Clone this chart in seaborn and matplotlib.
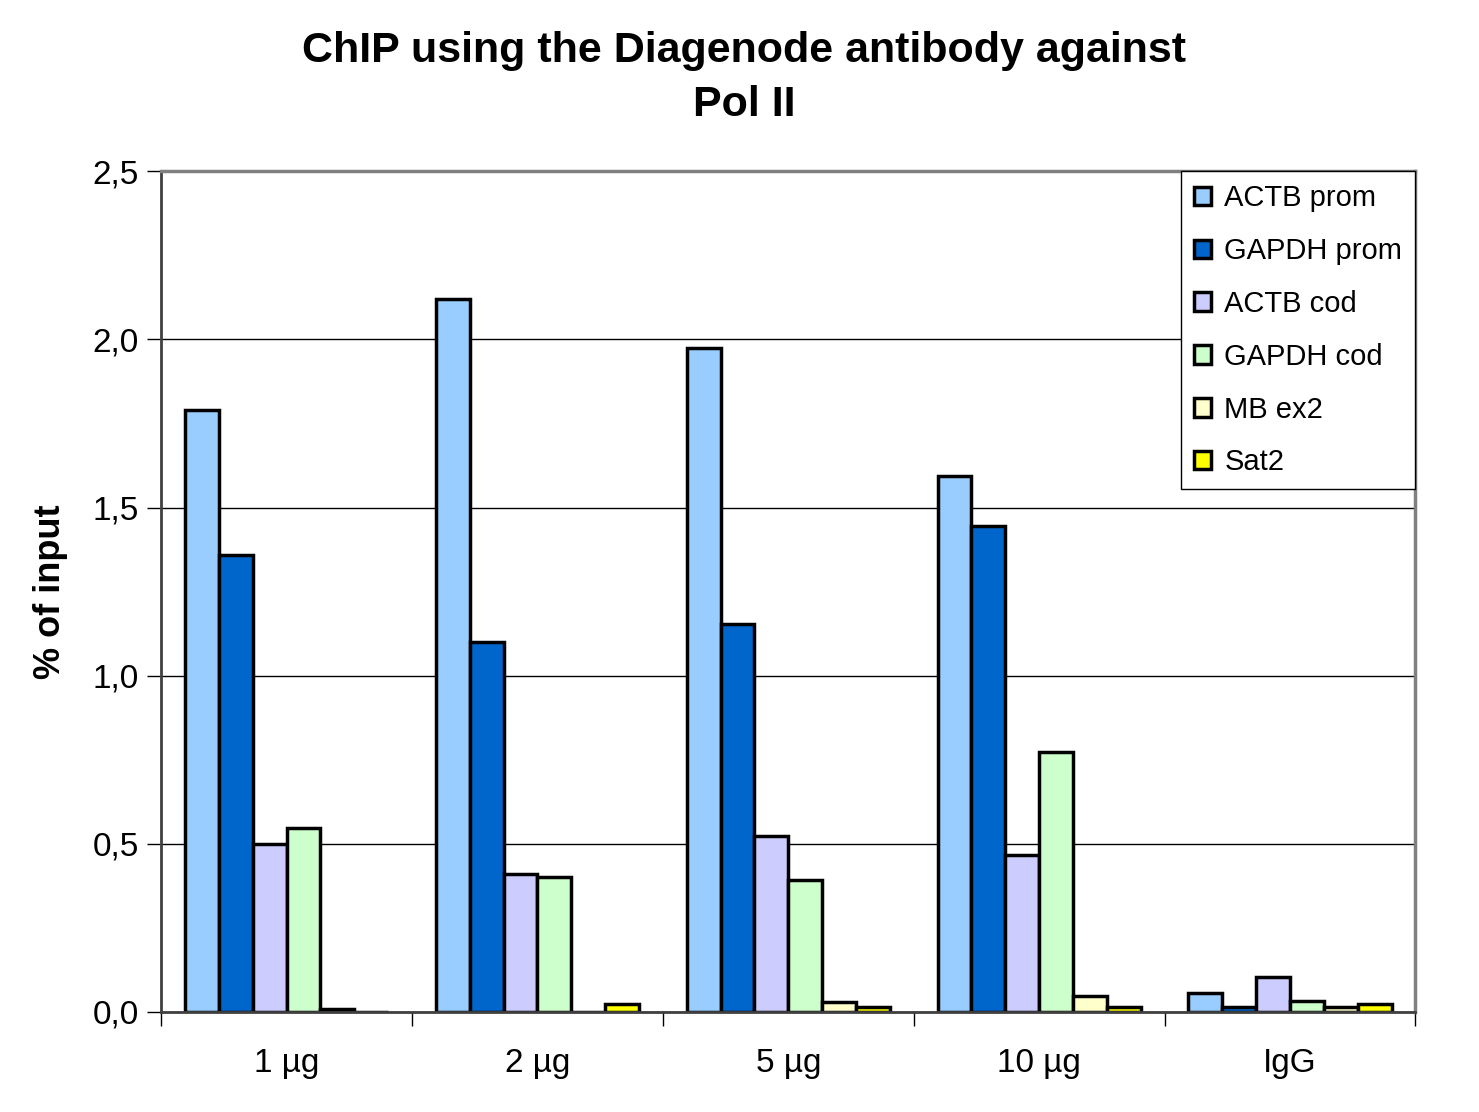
import matplotlib
matplotlib.use("Agg")

import matplotlib.pyplot as plt
import matplotlib.ticker as mticker
import seaborn as sns
import pandas as pd

groups = ["1 µg", "2 µg", "5 µg", "10 µg", "IgG"]
targets = ["ACTB prom", "GAPDH prom", "ACTB cod", "GAPDH cod", "MB ex2", "Sat2"]

actb_prom = [1.79, 2.12, 1.975, 1.595, 0.055]
gapdh_prom = [1.36, 1.10, 1.153, 1.445, 0.016]
actb_cod = [0.50, 0.41, 0.523, 0.467, 0.105]
gapdh_cod = [0.547, 0.40, 0.392, 0.773, 0.031]
mb_ex2 = [0.008, 0.0, 0.030, 0.048, 0.016]
sat2 = [0.0, 0.024, 0.016, 0.016, 0.023]

colors = ["#99CCFF", "#0066CC", "#CCCCFF", "#CCFFCC", "#FFFFCC", "#FFFF00"]

series = [actb_prom, gapdh_prom, actb_cod, gapdh_cod, mb_ex2, sat2]
rows = []
for t, vals in zip(targets, series):
    for g, v in zip(groups, vals):
        rows.append({"group": g, "target": t, "value": v})
df = pd.DataFrame(rows)

sns.set_theme(style="white")
plt.rcParams["font.family"] = ["Liberation Sans", "DejaVu Sans"]
plt.rcParams["text.color"] = "black"
plt.rcParams["axes.labelcolor"] = "black"
plt.rcParams["xtick.color"] = "black"
plt.rcParams["ytick.color"] = "black"

fig = plt.figure(figsize=(14.79, 11.12), dpi=100)
ax = fig.add_axes([0.109, 0.090, 0.848, 0.756])

sns.barplot(data=df, x="group", y="value", hue="target", order=groups,
            hue_order=targets, palette=colors, width=0.81, gap=0,
            edgecolor="black", linewidth=2.5, saturation=1, ax=ax,
            errorbar=None)

ax.set_ylim(0, 2.5)
ax.set_xlim(-0.5, 4.5)
ax.yaxis.set_major_locator(mticker.MultipleLocator(0.5))
ax.yaxis.set_major_formatter(mticker.FuncFormatter(lambda v, p: f"{v:.1f}".replace(".", ",")))
ax.grid(axis="y", color="black", linewidth=1)
ax.set_axisbelow(True)

ax.set_xticks(range(len(groups)))
ax.set_xticklabels(groups)
ax.set_xticks([i + 0.5 for i in range(-1, len(groups))], minor=True)
ax.tick_params(axis="x", which="major", length=0, pad=26, labelsize=24)
ax.tick_params(axis="x", which="minor", length=10, width=1, color="black", direction="out", bottom=True)
ax.tick_params(axis="y", length=10, width=1, color="black", direction="out", left=True, labelsize=24, pad=6)

for side in ["top", "right"]:
    ax.spines[side].set_color("#808080")
    ax.spines[side].set_linewidth(2.5)
ax.spines["left"].set_color("#404040")
ax.spines["left"].set_linewidth(2)
ax.spines["bottom"].set_color("#404040")
ax.spines["bottom"].set_linewidth(2)

ax.set_xlabel("")
ax.set_ylabel("% of input", fontsize=26, fontweight="bold", labelpad=18)

fig.text(0.503, 0.972, "ChIP using the Diagenode antibody against\nPol II", fontsize=31,
         fontweight="bold", ha="center", va="top", linespacing=1.45,
         multialignment="center")

leg = ax.legend(loc="upper right", bbox_to_anchor=(1.0, 1.0), fontsize=21,
                frameon=True, fancybox=False, framealpha=1, edgecolor="black",
                handlelength=0.6, handleheight=0.6, handletextpad=0.45,
                labelspacing=0.85, borderpad=0.45, borderaxespad=0)
leg.get_frame().set_linewidth(1)
for h in leg.get_patches():
    h.set_edgecolor("black")
    h.set_linewidth(2.5)

fig.savefig("out.png", dpi=100)
